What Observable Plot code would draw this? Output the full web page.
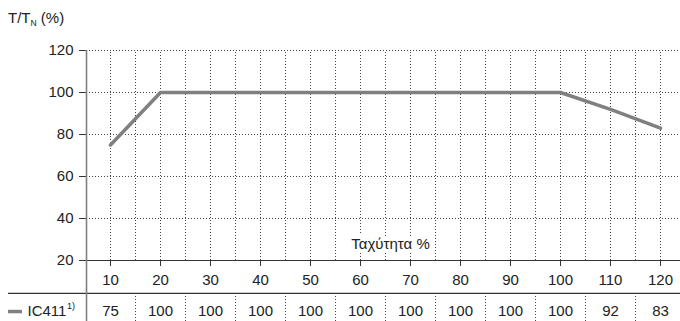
<!DOCTYPE html>
<html>
<head>
<meta charset="utf-8">
<script src="https://cdn.jsdelivr.net/npm/d3@7"></script>
<script src="https://cdn.jsdelivr.net/npm/@observablehq/plot@0.6"></script>
<style>
  html, body { margin: 0; padding: 0; background: #fff; }
  #wrap { position: relative; width: 680px; height: 321px; }
  #title { position: absolute; left: 8px; top: 9px; font: 15px "Liberation Sans", Arial, sans-serif; color: #222; }
  #title sub { font-size: 8.5px; vertical-align: -3px; }
</style>
</head>
<body>
<div id="wrap"><div id="title">T/T<sub>N</sub> (%)</div></div>
<script>
const speeds = [10, 20, 30, 40, 50, 60, 70, 80, 90, 100, 110, 120];
const torqueIC411 = [75, 100, 100, 100, 100, 100, 100, 100, 100, 100, 92, 83];
const yTicks = [20, 40, 60, 80, 100, 120];
const yGrid = [40, 60, 80, 100, 120];
const xGrid = [10, 15, 20, 25, 30, 35, 40, 45, 50, 55, 60, 65, 70, 75, 80, 85, 90, 95, 100, 105, 110, 115, 120];
const tableSeparators = [15, 25, 35, 45, 55, 65, 75, 85, 95, 105, 115];
const seriesName = "IC411";
const seriesNote = "1)";
const xLabel = "Ταχύτητα %";

const data = speeds.map((s, i) => ({speed: s, torque: torqueIC411[i]}));

const grey = "#808080";
const dark = "#333";
const dot = {stroke: "#444", strokeDasharray: "1,2", strokeWidth: 1};
const fs = 15;

// table row positions expressed in y-scale units (below the plot)
const yTableLine = 4.3;
const yTableRow = -4.3;
const yBottom = -9.1;

const chart = Plot.plot({
  width: 680,
  height: 321,
  marginLeft: 86,
  marginRight: 0,
  marginTop: 50,
  marginBottom: 61,
  style: {fontFamily: "'Liberation Sans', Arial, sans-serif", fontSize: fs + "px", color: "#222", background: "transparent"},
  x: {domain: [5.2, 124], axis: null},
  y: {domain: [20, 120], axis: null},
  marks: [
    Plot.ruleY(yGrid, {x1: 5.8, x2: 124, ...dot}),
    Plot.ruleX(xGrid, {y1: 20, y2: 120, ...dot}),
    Plot.text([xLabel], {x: 66, y: 27.8, text: d => d, stroke: "white", strokeWidth: 8, fill: "#222", fontSize: fs}),
    Plot.axisY({ticks: yTicks, tickSize: 7, tickPadding: 6, stroke: dark, label: null, fontSize: fs}),
    Plot.axisX({ticks: speeds, tickSize: 6, tickPadding: 8, stroke: dark, label: null, fontSize: fs}),
    Plot.ruleY([20], {x1: 4, x2: 124, stroke: dark, strokeWidth: 1.2}),
    Plot.ruleY([yTableLine], {x1: -10.4, x2: 124, stroke: dark, strokeWidth: 1.2}),
    Plot.ruleX(tableSeparators, {y1: yTableLine, y2: yBottom, ...dot}),
    Plot.ruleX([5.2], {y1: 120, y2: yBottom, stroke: grey, strokeWidth: 1.6}),
    Plot.line(data, {x: "speed", y: "torque", stroke: grey, strokeWidth: 3.5}),
    Plot.text(data, {x: "speed", y: yTableRow, text: "torque", fill: "#222", fontSize: fs}),
    Plot.ruleY([yTableRow], {x1: -10.4, x2: -7.6, stroke: grey, strokeWidth: 3.5}),
    Plot.text([seriesName], {x: -6.6, y: yTableRow, text: d => d, textAnchor: "start", fill: "#222", fontSize: fs}),
    Plot.text([seriesNote], {x: 1.3, y: yTableRow + 2.6, text: d => d, textAnchor: "start", fill: "#222", fontSize: 9})
  ]
});
document.getElementById("wrap").appendChild(chart);
chart.style.position = "absolute";
chart.style.left = "0";
chart.style.top = "0";
</script>
</body>
</html>
